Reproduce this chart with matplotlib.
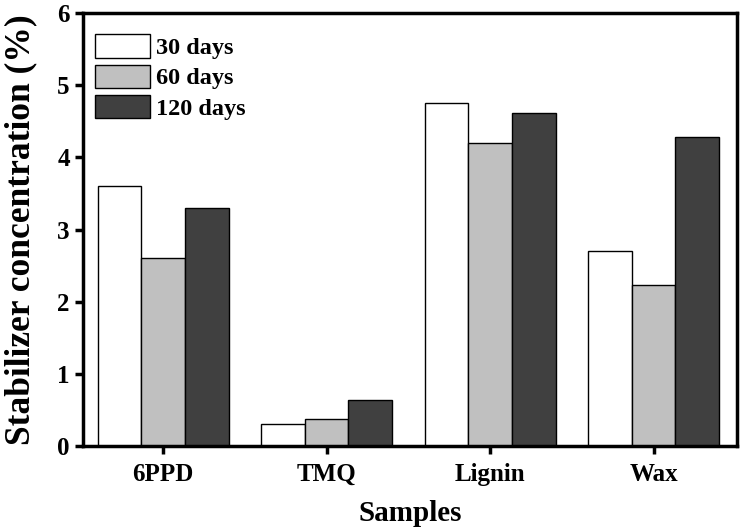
import matplotlib
matplotlib.use("Agg")
import matplotlib.pyplot as plt
import numpy as np

categories = ["6PPD", "TMQ", "Lignin", "Wax"]
series_names = ["30 days", "60 days", "120 days"]
values_30 = [3.60, 0.30, 4.75, 2.70]
values_60 = [2.60, 0.38, 4.20, 2.23]
values_120 = [3.30, 0.64, 4.61, 4.28]
colors = ["#ffffff", "#c0c0c0", "#404040"]

plt.rcParams['font.family'] = ['Liberation Serif', 'DejaVu Serif']
plt.rcParams['font.weight'] = 'bold'

fig = plt.figure(figsize=(7.41, 5.27), dpi=100)
ax = fig.add_axes([0.112, 0.1537, 0.8826, 0.8216])

x = np.arange(len(categories))
w = 0.267
for i, (vals, name, c) in enumerate(zip([values_30, values_60, values_120], series_names, colors)):
    ax.bar(x + (i - 1) * w, vals, width=w, color=c, edgecolor="black", linewidth=1.0, label=name)

ax.set_xlim(-0.49, 3.51)
ax.set_ylim(0, 6)
ax.set_yticks(range(0, 7))
ax.set_xticks(x)
ax.set_xticklabels(categories)
for s in ax.spines.values():
    s.set_linewidth(2.5)
ax.tick_params(axis='both', direction='out', width=2.5, length=6, labelsize=18)
ax.tick_params(axis='x', pad=6)
ax.set_xlabel("Samples", fontsize=21, fontweight='bold', labelpad=10)
ax.set_ylabel("Stabilizer concentration (%)", fontsize=25.5, fontweight='bold', labelpad=14)

leg = ax.legend(loc='upper left', frameon=False, fontsize=17.5, handlelength=2.25, handleheight=1.1,
                borderaxespad=0.0, borderpad=0.0, labelspacing=0.22, handletextpad=0.25,
                bbox_to_anchor=(12 / 654, 0.951))

fig.savefig("out.png", dpi=100)
